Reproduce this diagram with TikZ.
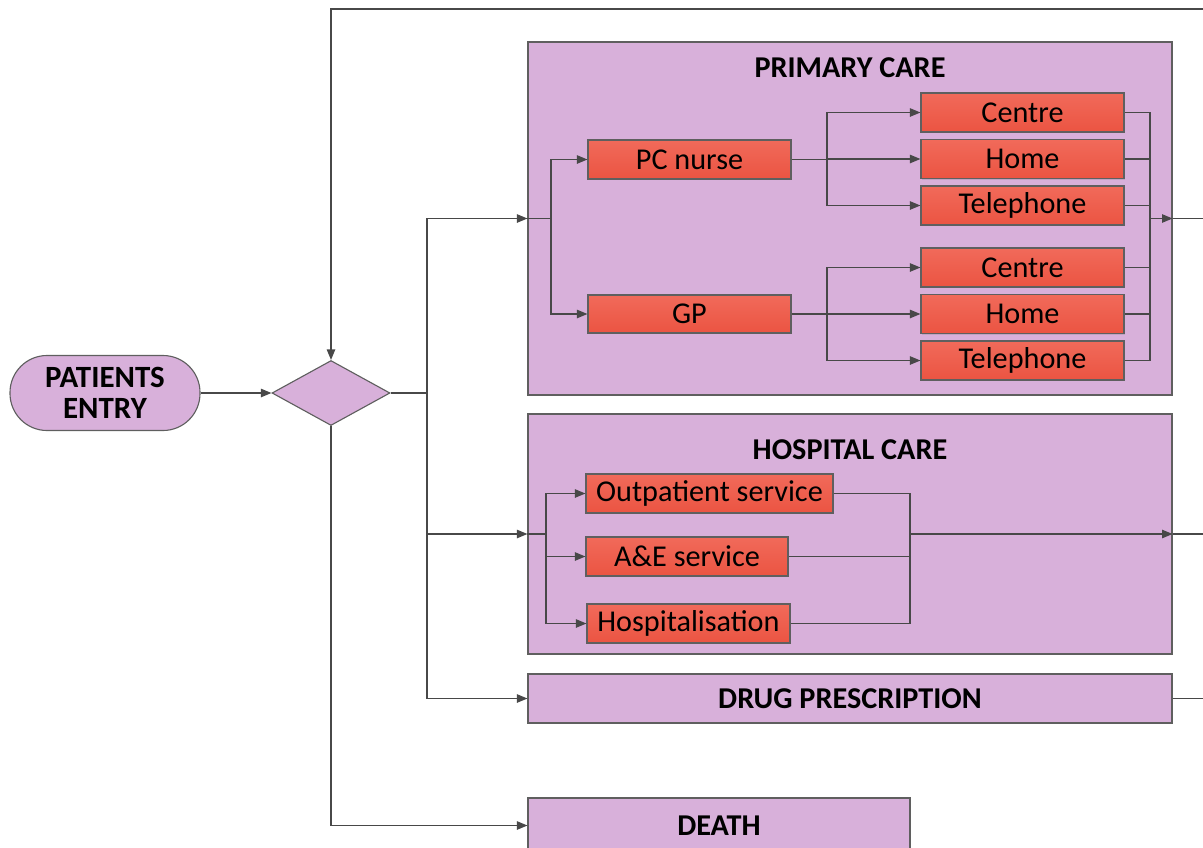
\documentclass[tikz,border=0pt]{standalone}
\usepackage{fontspec}
\setmainfont{Carlito}
\usetikzlibrary{arrows.meta}
\usetikzlibrary{shapes.geometric}
\usetikzlibrary{shadows}
\newlength\pxu
\setlength\pxu{0.025cm}
\definecolor{lilac}{RGB}{216,176,218}
\definecolor{edgegray}{RGB}{95,95,95}
\definecolor{linegray}{RGB}{72,72,72}
\definecolor{redtop}{RGB}{241,106,90}
\definecolor{redbot}{RGB}{235,84,66}

\begin{document}
\begin{tikzpicture}[x=0.025cm,y=-0.025cm,
    every node/.style={font=\fontsize{21.5}{22.5}\selectfont},
    arr/.style={draw=linegray,line width=0.9pt,-{Triangle[length=7.5pt,width=6pt]}},
    wire/.style={draw=linegray,line width=0.9pt},
    group/.style={draw=edgegray,fill=lilac,line width=0.8pt,inner sep=0pt,
        drop shadow={shadow xshift=1pt,shadow yshift=-1pt,opacity=0.25}},
    title/.style={font=\fontsize{21.5}{22.5}\selectfont\bfseries},
    task/.style={draw=edgegray,top color=redtop,bottom color=redbot,line width=0.8pt,
        inner sep=0pt,minimum height=39\pxu,minimum width=203\pxu,
        drop shadow={shadow xshift=1pt,shadow yshift=-1pt,opacity=0.25}}]

        \useasboundingbox (0,0) rectangle (1203,848);
        \clip (0,0) rectangle (1203,848);

        %Entry and decision
        \node[draw=edgegray,fill=lilac,line width=0.8pt,rounded corners=37\pxu,
            minimum width=190\pxu,minimum height=75\pxu,align=center,
            font=\fontsize{22}{22.5}\selectfont\bfseries] (entry) at (105,393) {PATIENTS\\ENTRY};
        \node[diamond,draw=edgegray,fill=lilac,line width=0.8pt,inner sep=0pt,
            minimum width=118\pxu,minimum height=65\pxu] (dec) at (331,393) {};

        %Big boxes
        \node[group,minimum width=644\pxu,minimum height=353\pxu] (pc) at (850,218.5) {};
        \node[title] (pctitle) at (850,68) {PRIMARY CARE};
        \node[group,minimum width=644\pxu,minimum height=240\pxu] (hc) at (850,534) {};
        \node[title] (hctitle) at (850,450) {HOSPITAL CARE};
        \node[group,title,minimum width=644\pxu,minimum height=49\pxu] (drug) at (850,698.5) {DRUG PRESCRIPTION};
        \node[group,title,minimum width=382\pxu,minimum height=55\pxu] (death) at (719,825.5) {DEATH};

        %Primary care
        \node[task,minimum height=39\pxu] (nurse) at (689.5,159.5) {PC nurse};
        \node[task,minimum height=38\pxu] (gp) at (689.5,314) {GP};
        \node[task] (c1) at (1022.5,112.5) {Centre};
        \node[task] (h1) at (1022.5,159) {Home};
        \node[task] (t1) at (1022.5,205.5) {Telephone};
        \node[task] (c2) at (1022.5,267.5) {Centre};
        \node[task] (h2) at (1022.5,314) {Home};
        \node[task] (t2) at (1022.5,360.5) {Telephone};

        %Hospital care
        \node[task,minimum width=247\pxu] (out) at (709.5,493.5) {Outpatient service};
        \node[task,minimum width=202\pxu] (ae) at (687,556.5) {A\&E service};
        \node[task] (hosp) at (688.5,623.5) {Hospitalisation};

        %Junctions
        \coordinate (back) at (1220,9);
        \coordinate (split) at (427,393);
        \coordinate (pcin) at (551,218.5);
        \coordinate (nsplit) at (827,159.5);
        \coordinate (gsplit) at (827,314);
        \coordinate (pcout) at (1150,218.5);
        \coordinate (pcexit) at (1220,218.5);
        \coordinate (hcin) at (546,534);
        \coordinate (hcout) at (910,534);
        \coordinate (hcexit) at (1220,534);
        \coordinate (drugexit) at (1220,698.5);

        %Main flow
        \draw[arr] (entry) -- (dec);
        \draw[arr] (back) -| (dec.north);
        \draw[wire] (dec.east) -- (split);
        \draw[arr] (split) |- (pc.west);
        \draw[arr] (split) |- (hc.west);
        \draw[arr] (split) |- (drug.west);
        \draw[arr] (dec.south) |- (death.west);

        %Inside primary care
        \draw[wire] (pc.west) -- (pcin);
        \draw[arr] (pcin) |- (nurse.west);
        \draw[arr] (pcin) |- (gp.west);
        \draw[wire] (nurse.east) -- (nsplit);
        \draw[wire] (gp.east) -- (gsplit);
        \foreach \b in {c1,h1,t1}
            \draw[arr] (nsplit) |- (\b.west);
        \foreach \b in {c2,h2,t2}
            \draw[arr] (gsplit) |- (\b.west);
        \foreach \b in {c1,h1,t1,c2,h2,t2}
            \draw[wire] (\b.east) -| (pcout);
        \draw[arr] (pcout) -- (pc.east);
        \draw[wire] (pc.east) -- (pcexit);

        %Inside hospital care
        \draw[wire] (hc.west) -- (hcin);
        \foreach \b in {out,ae,hosp}{
            \draw[arr] (hcin) |- (\b.west);
            \draw[wire] (\b.east) -| (hcout);
        }
        \draw[arr] (hcout) -- (hc.east);
        \draw[wire] (hc.east) -- (hcexit);
        \draw[wire] (drug.east) -- (drugexit);

    \end{tikzpicture}
\end{document}
